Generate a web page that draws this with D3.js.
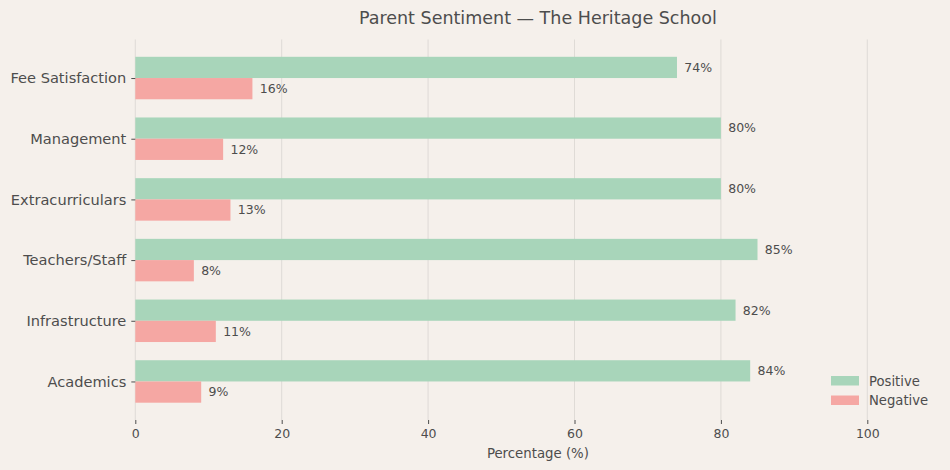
<!DOCTYPE html>
<html><head><meta charset="utf-8">
<script src="https://cdn.jsdelivr.net/npm/d3@7"></script>
<style>
body{margin:0;background:#f5f0eb;}
svg{display:block;font-family:"DejaVu Sans",sans-serif;}
</style></head><body>
<svg id="c" width="950" height="470"></svg>
<script>
const categories = ["Academics","Infrastructure","Teachers/Staff","Extracurriculars","Management","Fee Satisfaction"];
const positive = [84,82,85,80,80,74];
const negative = [9,11,8,13,12,16];
const xTicks = [0,20,40,60,80,100];
const seriesNames = ["Positive","Negative"];
const colors = ["#a8d5ba","#f5a7a3"];

const W=950,H=470, m={l:135.3,r:9.5,t:39.5,b:50};
const svg=d3.select("#c");
svg.append("rect").attr("width",W).attr("height",H).attr("fill","#f5f0eb");
const x=d3.scaleLinear().domain([0,110]).range([m.l,W-m.r]);
const y=d3.scaleLinear().domain([-0.635,5.635]).range([H-m.b,m.t]);
const bw=0.35;
const textCol="#4d4d4d";

// grid
svg.append("g").selectAll("line").data(xTicks).join("line")
 .attr("x1",d=>x(d)).attr("x2",d=>x(d)).attr("y1",m.t).attr("y2",H-m.b)
 .attr("stroke","#dcd8d4").attr("stroke-width",0.9);

const rows=categories.map((c,i)=>({c,i,p:positive[i],n:negative[i]}));
svg.append("g").selectAll("rect").data(rows).join("rect")
 .attr("x",x(0)).attr("y",d=>y(d.i+bw)).attr("width",d=>x(d.p)-x(0))
 .attr("height",d=>y(d.i)-y(d.i+bw)).attr("fill",colors[0]);
svg.append("g").selectAll("rect").data(rows).join("rect")
 .attr("x",x(0)).attr("y",d=>y(d.i)).attr("width",d=>x(d.n)-x(0))
 .attr("height",d=>y(d.i-bw)-y(d.i)).attr("fill",colors[1]);
// value labels
const lab=svg.append("g").attr("font-size",12.5).attr("fill",textCol);
lab.selectAll("text.p").data(rows).join("text").attr("class","p")
 .attr("x",d=>x(d.p+1)).attr("y",d=>y(d.i+bw/2)).attr("dy","0.35em").text(d=>d.p+"%");
lab.selectAll("text.n").data(rows).join("text").attr("class","n")
 .attr("x",d=>x(d.n+1)).attr("y",d=>y(d.i-bw/2)).attr("dy","0.35em").text(d=>d.n+"%");

// x axis
const xa=svg.append("g").attr("transform",`translate(0,${H-m.b})`)
 .call(d3.axisBottom(x).tickValues(xTicks).tickSize(4).tickPadding(5));
xa.select(".domain").remove();
xa.selectAll("line").attr("stroke","#4d4d4d");
xa.selectAll("text").attr("font-size",12.5).attr("fill",textCol).attr("font-family","DejaVu Sans");
// y axis
const ya=svg.append("g").attr("transform",`translate(${m.l},0)`)
 .call(d3.axisLeft(y).tickValues(d3.range(categories.length)).tickFormat(i=>categories[i]).tickSize(4).tickPadding(5));
ya.select(".domain").remove();
ya.selectAll("line").attr("stroke","#4d4d4d");
ya.selectAll("text").attr("font-size",14.6).attr("fill",textCol).attr("font-family","DejaVu Sans");

// labels
svg.append("text").attr("x",(m.l+W-m.r)/2).attr("y",24).attr("text-anchor","middle")
 .attr("font-size",17.5).attr("fill",textCol).text("Parent Sentiment — The Heritage School");
svg.append("text").attr("x",(m.l+W-m.r)/2).attr("y",457.5).attr("text-anchor","middle")
 .attr("font-size",13.3).attr("fill",textCol).text("Percentage (%)");

// legend
const lg=svg.append("g").attr("transform","translate(831,376)");
seriesNames.forEach((s,i)=>{
 lg.append("rect").attr("x",0).attr("y",i*19.5).attr("width",28).attr("height",9.5).attr("fill",colors[i]);
 lg.append("text").attr("x",38).attr("y",i*19.5+5).attr("dy","0.35em").attr("font-size",13.2).attr("fill",textCol).text(s);
});
</script></body></html>
